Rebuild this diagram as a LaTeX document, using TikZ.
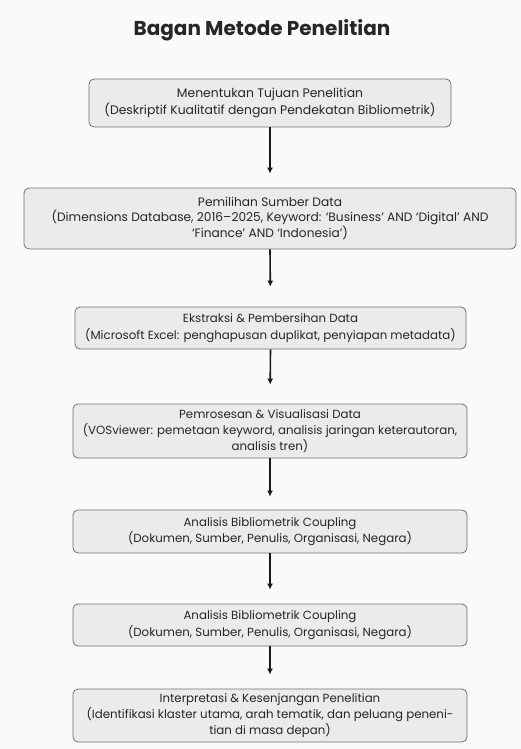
\documentclass[tikz,border=0pt]{standalone}
\usepackage{fontspec}
\setmainfont{Poppins}
\usetikzlibrary{arrows.meta}
\definecolor{boxfill}{HTML}{EBEBEB}
\definecolor{boxline}{HTML}{707070}
\definecolor{textc}{HTML}{262626}
\definecolor{bgc}{HTML}{FAFAFA}
\begin{document}
\begin{tikzpicture}[x=1pt,y=-1pt,
  stepbox/.style={draw=boxline, fill=boxfill, rounded corners=5pt, line width=0.8pt,
    align=center, font=\fontsize{11.8}{15.5}\selectfont, text=textc, inner sep=0pt},
  flow/.style={-{Latex[length=6pt,width=6pt]}, line width=1.6pt, draw=black!90, shorten >=14pt}]
\fill[bgc] (0,0) rectangle (521,749);
\useasboundingbox (0,0) rectangle (521,749);
\node[font=\fontsize{20}{22}\selectfont\bfseries, text=textc] (title) at (262,30) {Bagan Metode Penelitian};
\node[stepbox, minimum width=362pt, minimum height=48pt, font=\fontsize{12.4}{15.5}\selectfont] (b1) at (270,103)
  {Menentukan Tujuan Penelitian\\[2pt](Deskriptif Kualitatif dengan Pendekatan Bibliometrik)};
\node[stepbox, minimum width=492pt, minimum height=61pt, font=\fontsize{12.2}{13.5}\selectfont] (b2) at (270,218.5)
  {Pemilihan Sumber Data\\[1pt](Dimensions Database, 2016--2025, Keyword: `Business' AND `Digital' AND\\`Finance' AND `Indonesia')};
\node[stepbox, minimum width=391pt, minimum height=42pt] (b3) at (270.5,328)
  {Ekstraksi \& Pembersihan Data\\[1pt](Microsoft Excel: penghapusan duplikat, penyiapan metadata)};
\node[stepbox, minimum width=394pt, minimum height=54pt] (b4) at (270,431)
  {Pemrosesan \& Visualisasi Data\\[1pt](VOSviewer: pemetaan keyword, analisis jaringan keterautoran,\\analisis tren)};
\node[stepbox, minimum width=394pt, minimum height=43pt] (b5) at (270,531.5)
  {Analisis Bibliometrik Coupling\\[1pt](Dokumen, Sumber, Penulis, Organisasi, Negara)};
\node[stepbox, minimum width=394pt, minimum height=42pt] (b6) at (270,625)
  {Analisis Bibliometrik Coupling\\[1pt](Dokumen, Sumber, Penulis, Organisasi, Negara)};
\node[stepbox, minimum width=394pt, minimum height=53pt] (b7) at (270,715.5)
  {Interpretasi \& Kesenjangan Penelitian\\[1pt](Identifikasi klaster utama, arah tematik, dan peluang peneni-\\tian di masa depan)};
\draw[flow] (b1.south) -- (b2.north);
\draw[flow, shorten >=20pt] (b2.south) -- (b3.north);
\draw[flow, shorten >=19pt] (b3.south) -- (b4.north);
\draw[flow, shorten >=13pt] (b4.south) -- (b5.north);
\draw[flow] (b5.south) -- (b6.north);
\draw[flow] (b6.south) -- (b7.north);
\end{tikzpicture}
\end{document}
